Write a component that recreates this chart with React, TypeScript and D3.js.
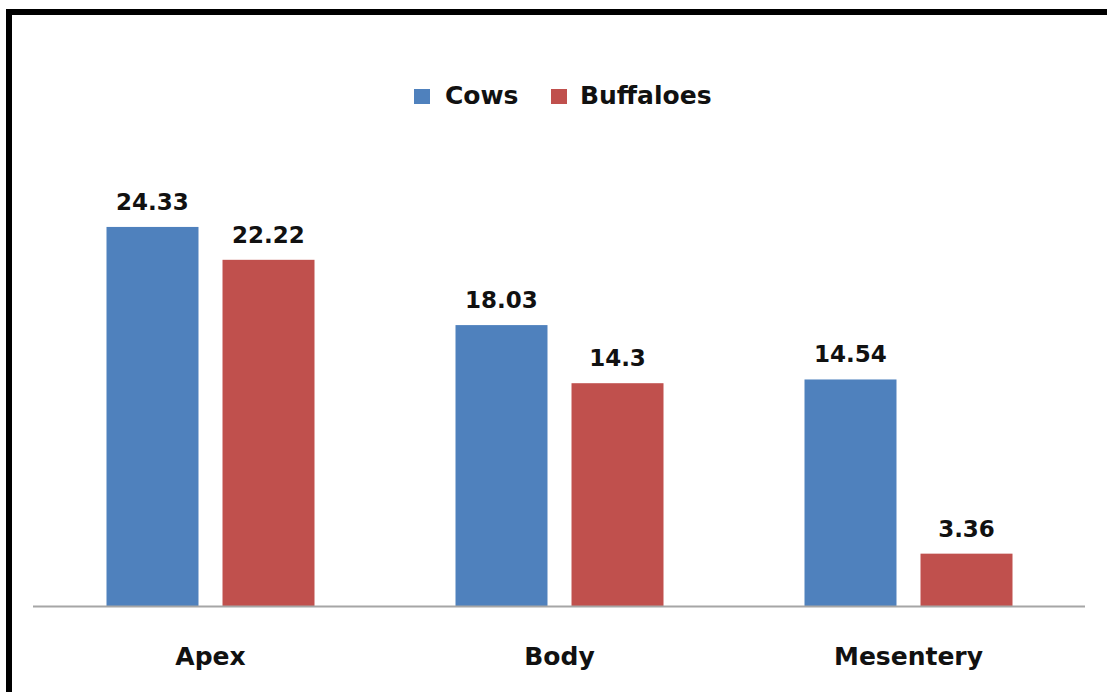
import React from "react";
import * as d3 from "d3";

const categories = ["Apex", "Body", "Mesentery"];
const seriesNames = ["Cows", "Buffaloes"];
const cowsValues = [24.33, 18.03, 14.54];
const buffaloesValues = [22.22, 14.3, 3.36];
const valueLabels = [["24.33", "22.22"], ["18.03", "14.3"], ["14.54", "3.36"]];
const colors = ["#4F81BD", "#C0504D"];

const W = 1107;
const H = 692;
const FONT = "'DejaVu Sans', sans-serif";

export default function App() {
  const baseY = 606;
  const y = d3.scaleLinear().domain([0, 25]).range([baseY, baseY - 25 * 15.58]);
  const x0 = d3.scaleBand<string>().domain(categories).range([36, 1083]).padding(0);
  const x1 = d3
    .scaleBand<string>()
    .domain(seriesNames)
    .range([70.5, x0.bandwidth() - 70.5])
    .paddingInner(0.207)
    .paddingOuter(0);
  const seriesValues = [cowsValues, buffaloesValues];

  return (
    <svg
      width={W}
      height={H}
      style={{ position: "absolute", left: 0, top: 0, background: "#fff" }}
    >
      <rect x={0} y={0} width={W} height={H} fill="#fff" />
      {/* frame */}
      <rect x={6} y={9} width={W - 6} height={6} fill="#000" />
      <rect x={6} y={9} width={6} height={H - 9} fill="#000" />

      {/* legend */}
      <g fontFamily={FONT} fontWeight="bold" fontSize={25} fill="#111">
        <rect x={414} y={89} width={16} height={15} fill={colors[0]} />
        <text x={445} y={104}>{seriesNames[0]}</text>
        <rect x={551} y={89} width={16} height={15} fill={colors[1]} />
        <text x={580} y={104}>{seriesNames[1]}</text>
      </g>

      {/* bars */}
      {categories.map((c, ci) => (
        <g key={c} transform={`translate(${x0(c)},0)`}>
          {seriesNames.map((s, si) => {
            const v = seriesValues[si][ci];
            const bx = x1(s) as number;
            return (
              <g key={s}>
                <rect
                  x={bx}
                  y={y(v)}
                  width={x1.bandwidth()}
                  height={baseY - y(v)}
                  fill={colors[si]}
                />
                <text
                  x={bx + x1.bandwidth() / 2}
                  y={y(v) - 17}
                  textAnchor="middle"
                  fontFamily={FONT}
                  fontWeight="bold"
                  fontSize={23}
                  fill="#111"
                >
                  {valueLabels[ci][si]}
                </text>
              </g>
            );
          })}
        </g>
      ))}

      {/* baseline */}
      <line x1={33} x2={1085} y1={baseY + 0.5} y2={baseY + 0.5} stroke="#A6A6A6" strokeWidth={2} />

      {/* category labels */}
      {categories.map((c) => (
        <text
          key={c}
          x={(x0(c) as number) + x0.bandwidth() / 2}
          y={665}
          textAnchor="middle"
          fontFamily={FONT}
          fontWeight="bold"
          fontSize={25}
          fill="#111"
        >
          {c}
        </text>
      ))}
    </svg>
  );
}
